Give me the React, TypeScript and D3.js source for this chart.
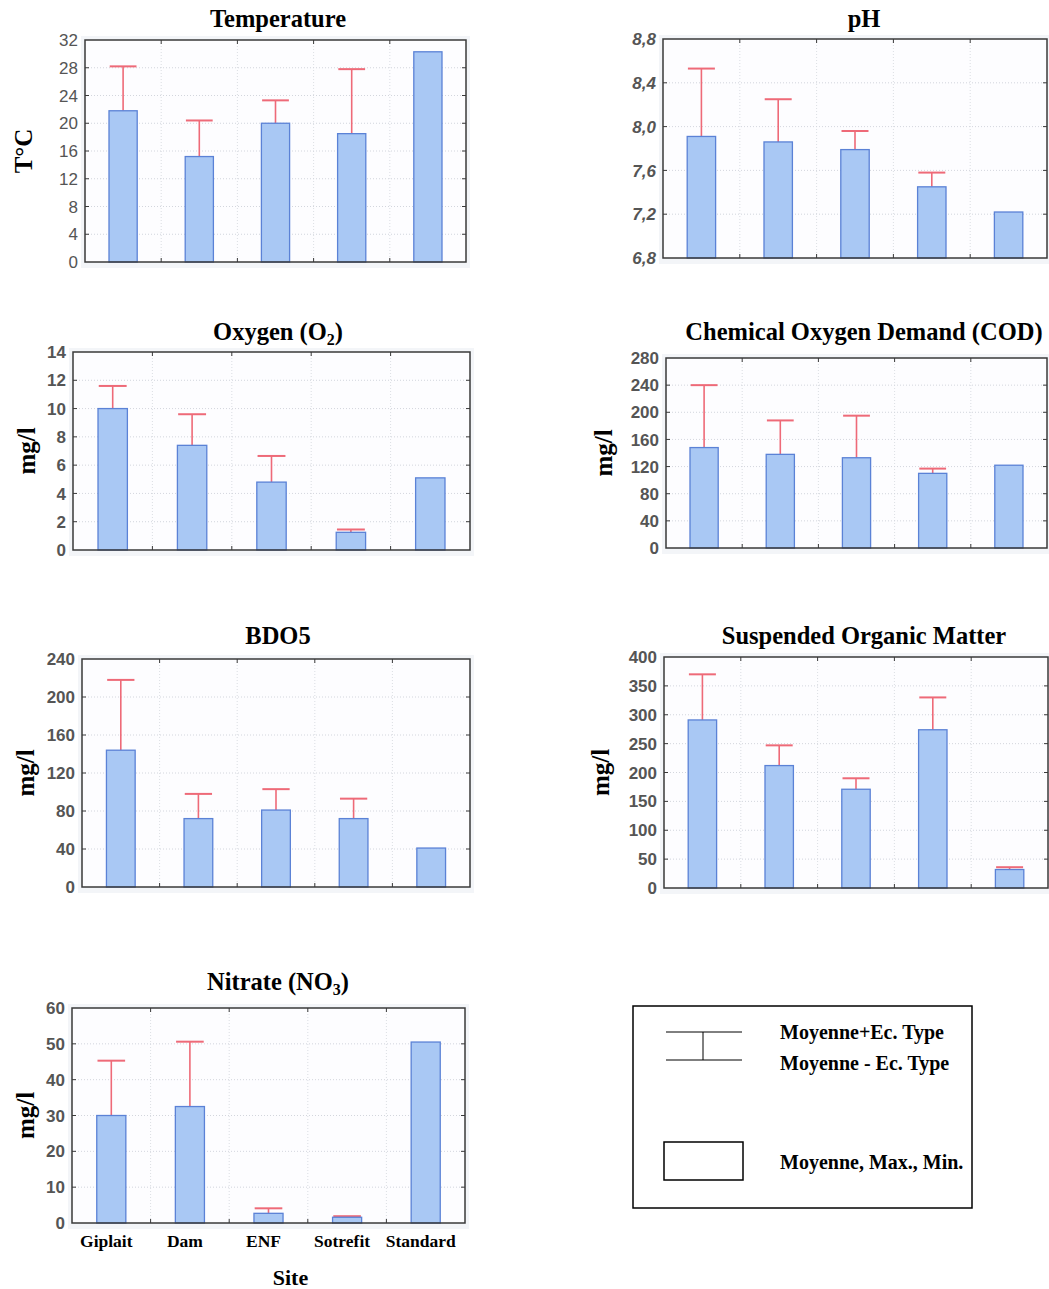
import * as React from 'react';
import * as d3 from 'd3';

// sites on x axis
const sites = ['Giplait', 'Dam', 'ENF', 'Sotrefit', 'Standard'];

// mean and mean + std dev (null = no error bar)
const tempMean = [21.8, 15.2, 20.0, 18.5, 30.3];
const tempUpper = [28.2, 20.4, 23.3, 27.8, null];

const phMean = [7.91, 7.86, 7.79, 7.45, 7.22];
const phUpper = [8.53, 8.25, 7.96, 7.58, null];

const oxyMean = [10.0, 7.4, 4.8, 1.25, 5.1];
const oxyUpper = [11.6, 9.6, 6.65, 1.45, null];

const codMean = [148, 138, 133, 110, 122];
const codUpper = [240, 188, 195, 117, null];

const bdoMean = [144, 72, 81, 72, 41];
const bdoUpper = [218, 98, 103, 93, null];

const somMean = [291, 212, 171, 274, 32];
const somUpper = [370, 247, 190, 330, 36];

const no3Mean = [30.0, 32.5, 2.7, 1.6, 50.5];
const no3Upper = [45.3, 50.6, 4.1, 1.9, null];

const legendLabels = ['Moyenne+Ec. Type', 'Moyenne - Ec. Type', 'Moyenne, Max., Min.'];

const serif = '"Liberation Serif", "Times New Roman", serif';
const sans = '"Liberation Sans", Arial, sans-serif';

type Panel = {
  title: string;
  sub?: string;
  after?: string;
  ylabel?: string;
  mean: number[];
  upper: (number | null)[];
  domain: [number, number];
  step: number;
  comma?: boolean;
  italic?: boolean;
  bold?: boolean;
  box: { x0: number; x1: number; y0: number; y1: number };
  titleX: number;
  titleY: number;
  labelX: number;
  xlabels?: boolean;
};

const panels: Panel[] = [
  { title: 'Temperature', ylabel: 'T°C', mean: tempMean, upper: tempUpper, domain: [0, 32], step: 4, bold: false,
    box: { x0: 85, x1: 466, y0: 40, y1: 262 }, titleX: 278, titleY: 27, labelX: 32 },
  { title: 'pH', mean: phMean, upper: phUpper, domain: [6.8, 8.8], step: 0.4, comma: true, italic: true, bold: true,
    box: { x0: 663, x1: 1047, y0: 39, y1: 258 }, titleX: 864, titleY: 27, labelX: 0 },
  { title: 'Oxygen (O', sub: '2', after: ')', ylabel: 'mg/l', mean: oxyMean, upper: oxyUpper, domain: [0, 14], step: 2, bold: true,
    box: { x0: 73, x1: 470, y0: 352, y1: 550 }, titleX: 278, titleY: 340, labelX: 35 },
  { title: 'Chemical Oxygen Demand (COD)', ylabel: 'mg/l', mean: codMean, upper: codUpper, domain: [0, 280], step: 40, bold: true,
    box: { x0: 666, x1: 1047, y0: 358, y1: 548 }, titleX: 864, titleY: 340, labelX: 612 },
  { title: 'BDO5', ylabel: 'mg/l', mean: bdoMean, upper: bdoUpper, domain: [0, 240], step: 40, bold: true,
    box: { x0: 82, x1: 470, y0: 659, y1: 887 }, titleX: 278, titleY: 644, labelX: 34 },
  { title: 'Suspended Organic Matter', ylabel: 'mg/l', mean: somMean, upper: somUpper, domain: [0, 400], step: 50, bold: true,
    box: { x0: 664, x1: 1048, y0: 657, y1: 888 }, titleX: 864, titleY: 644, labelX: 609 },
  { title: 'Nitrate (NO', sub: '3', after: ')', ylabel: 'mg/l', mean: no3Mean, upper: no3Upper, domain: [0, 60], step: 10, bold: true,
    box: { x0: 72, x1: 465, y0: 1008, y1: 1223 }, titleX: 278, titleY: 990, labelX: 34, xlabels: true },
];

const barFill = '#a9c8f4';
const barStroke = '#5b82d6';
const errColor = '#ee6a78';
const frame = '#3a3a3a';

function PanelChart({ p }: { p: Panel }) {
  const { x0, x1, y0, y1 } = p.box;
  const x = d3.scaleBand<string>().domain(sites).range([x0, x1]).padding(0);
  const y = d3.scaleLinear().domain(p.domain).range([y1, y0]);
  const ticks = d3.range(p.domain[0], p.domain[1] + p.step / 2, p.step);
  const fmt = (v: number) => (p.comma ? d3.format('.1f')(v).replace('.', ',') : d3.format('d')(v));
  const bw = x.bandwidth() * 0.37;
  const cap = bw * 0.95;
  const bounds = sites.map((s) => x(s) as number).concat([x1]);
  return (
    <g>
      <rect x={x0 - 4} y={y0 - 4} width={x1 - x0 + 8} height={y1 - y0 + 10} fill="#f3f5f8" />
      <rect x={x0} y={y0} width={x1 - x0} height={y1 - y0} fill="#fdfdff" />
      {ticks.slice(1, -1).map((t) => (
        <line key={'h' + t} x1={x0} x2={x1} y1={y(t)} y2={y(t)} stroke="#c8ccd4" strokeWidth={0.8} strokeDasharray="1,2" />
      ))}
      {bounds.slice(1, -1).map((b, i) => (
        <line key={'v' + i} x1={b} x2={b} y1={y0} y2={y1} stroke="#d2d6dc" strokeWidth={0.8} strokeDasharray="1,2" />
      ))}
      {bounds.slice(1, -1).map((b, i) => (
        <g key={'tk' + i}>
          <line x1={b} x2={b} y1={y0} y2={y0 + 4} stroke={frame} />
          <line x1={b} x2={b} y1={y1} y2={y1 - 4} stroke={frame} />
        </g>
      ))}
      {ticks.slice(1, -1).map((t) => (
        <g key={'yt' + t}>
          <line x1={x0} x2={x0 + 4} y1={y(t)} y2={y(t)} stroke={frame} />
          <line x1={x1} x2={x1 - 4} y1={y(t)} y2={y(t)} stroke={frame} />
        </g>
      ))}
      {sites.map((s, i) => {
        const cx = (x(s) as number) + x.bandwidth() / 2;
        const u = p.upper[i];
        return (
          <g key={s}>
            {u != null && (
              <g stroke={errColor} strokeWidth={1.6}>
                <line x1={cx} x2={cx} y1={y(p.mean[i])} y2={y(u)} />
                <line x1={cx - cap / 2} x2={cx + cap / 2} y1={y(u)} y2={y(u)} strokeWidth={2} />
              </g>
            )}
            <rect x={cx - bw / 2} y={y(p.mean[i])} width={bw} height={y1 - y(p.mean[i])}
              fill={barFill} stroke={barStroke} strokeWidth={1.3} />
          </g>
        );
      })}
      <rect x={x0} y={y0} width={x1 - x0} height={y1 - y0} fill="none" stroke={frame} strokeWidth={1.5} />
      {ticks.map((t) => (
        <text key={'yl' + t} x={x0 - 7} y={y(t)} dy="0.36em" textAnchor="end" fill="#555"
          fontFamily={sans} fontSize={17} fontWeight={p.bold ? 'bold' : 'normal'}
          fontStyle={p.italic ? 'italic' : 'normal'}>
          {fmt(t)}
        </text>
      ))}
      <text x={p.titleX} y={p.titleY} textAnchor="middle" fontFamily={serif} fontWeight="bold" fontSize={24.5}>
        {p.title}
        {p.sub && <tspan fontSize={16} dy={5}>{p.sub}</tspan>}
        {p.after && <tspan dy={p.sub ? -5 : 0}>{p.after}</tspan>}
      </text>
      {p.ylabel && (
        <text transform={`translate(${p.labelX},${(y0 + y1) / 2}) rotate(-90)`} textAnchor="middle"
          fontFamily={serif} fontWeight="bold" fontSize={25}>
          {p.ylabel}
        </text>
      )}
      {p.xlabels && sites.map((s) => (
        <text key={'xl' + s} x={(x(s) as number) + x.bandwidth() / 2 - 5} y={y1 + 24} textAnchor="middle"
          fontFamily={serif} fontWeight="bold" fontSize={17.5}>
          {s}
        </text>
      ))}
      {p.xlabels && (
        <text x={(x0 + x1) / 2 + 22} y={y1 + 62} textAnchor="middle" fontFamily={serif} fontWeight="bold" fontSize={22}>
          Site
        </text>
      )}
    </g>
  );
}

function Legend() {
  return (
    <g>
      <rect x={633} y={1006} width={339} height={202} fill="none" stroke="#000" strokeWidth={1.5} />
      <line x1={666} x2={742} y1={1032} y2={1032} stroke="#000" />
      <line x1={666} x2={742} y1={1060} y2={1060} stroke="#000" />
      <line x1={703} x2={703} y1={1032} y2={1060} stroke="#000" />
      <rect x={664} y={1142} width={79} height={38} fill="none" stroke="#000" strokeWidth={1.5} />
      {[1039, 1070, 1169].map((yy, i) => (
        <text key={i} x={780} y={yy} fontFamily={serif} fontWeight="bold" fontSize={20}>
          {legendLabels[i]}
        </text>
      ))}
    </g>
  );
}

export default function App() {
  return (
    <svg width={1049} height={1289} style={{ position: 'absolute', left: 0, top: 0, background: '#fff' }}>
      {panels.map((p, i) => (
        <PanelChart key={i} p={p} />
      ))}
      <Legend />
    </svg>
  );
}
